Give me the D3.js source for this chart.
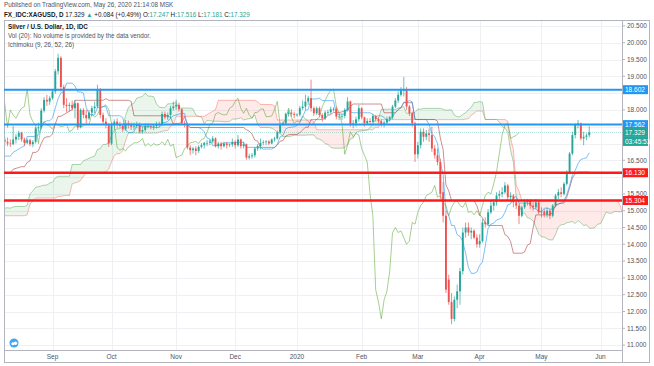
<!DOCTYPE html>
<html><head><meta charset="utf-8">
<script src="https://cdn.jsdelivr.net/npm/d3@7"></script>
<style>
body{margin:0;background:#fff;}
svg{display:block;font-family:"Liberation Sans",Arial,sans-serif;}
</style></head><body>
<svg id="c" width="654" height="366"></svg>
<script>
// ---------- DATA ----------
const firstDate = "2019-08-08";           // first visible daily bar (weekdays only)
// highs / lows before the visible window (Apr 22 – Aug 7 2019), needed by Ichimoku
const preHigh = [15.10,15.05,15.05,15.00,15.20, 15.20,15.10,15.05,14.90,15.00, 15.05,15.00,14.90,14.85,14.85,
 14.90,14.85,14.80,14.70,14.55, 14.50,14.50,14.45,14.55,14.65, 14.60,14.60,14.55,14.55,14.85,
 14.80,14.95,15.05,15.05,15.15, 15.05,14.85,14.90,14.95,15.10, 15.05,15.05,15.10,15.45,15.40,
 15.40,15.45,15.35,15.30,15.35, 15.30,15.25,15.35,15.30,15.25, 15.10,15.15,15.40,15.25,15.25,
 15.40,15.50,16.15,16.30,16.50, 16.45,16.40,16.50,16.45,16.40, 16.40,16.45,16.60,16.55,16.30, 16.45,16.50,17.30];
const preLow = [14.95,14.90,14.90,14.85,14.95, 15.00,14.95,14.85,14.70,14.75, 14.85,14.85,14.75,14.75,14.70,
 14.70,14.75,14.65,14.45,14.35, 14.30,14.30,14.25,14.35,14.45, 14.45,14.30,14.35,14.40,14.50,
 14.55,14.75,14.80,14.80,14.95, 14.75,14.70,14.75,14.80,14.90, 14.85,14.90,14.95,15.05,15.20,
 15.25,15.20,15.15,15.10,15.20, 15.00,15.05,15.20,15.10,14.95, 14.95,14.95,15.00,15.05,15.10,
 15.10,15.35,15.45,15.95,15.95, 16.10,16.20,16.35,16.20,16.25, 16.25,16.30,16.25,15.95,16.05, 16.15,16.25,16.35];

const open = [17.12,17.05, 17.00,16.98,17.12,17.20,17.32, 17.12,17.02,17.10,16.98,17.05, 17.45,17.48,17.98,18.30,18.25,
 18.35,18.55,19.15,19.55,18.68, 18.15,18.12,18.15,18.05,18.20, 17.48,18.00,17.85,17.75,17.92, 18.05,18.10,18.62,17.85,17.65,
 17.55,17.00,17.55,17.65,17.55, 17.52,17.42,17.60,17.55,17.50, 17.52,17.58,17.35,17.40,17.52, 17.52,17.50,17.52,17.58,17.56,
 17.88,17.78,17.85,18.05,18.10, 18.15,18.02,17.60,17.55,16.88, 16.80,16.85,16.78,16.90,16.95, 17.02,17.02,17.06,17.15,16.92,
 17.00,16.92,17.00,16.95,16.97, 17.05,16.95,17.12,16.92,16.98, 16.58,16.62,16.65,16.85,16.92, 17.02,17.04,17.06,17.00,17.12,
 17.15,17.33,17.58,17.60,17.88, 17.92,17.88,17.85,17.86,18.05, 18.10,18.25,18.35,18.05,17.90, 18.05,17.85,17.75,17.92,17.93,
 18.02,18.03,17.80,17.80,17.82, 18.00,18.25,17.55,17.60,17.72, 18.05,17.78,17.60,17.67,17.64, 17.82,17.73,17.66,17.55,17.62,
 17.73,17.78,18.10,18.28,18.45, 18.58,18.62,18.10,17.90,17.60, 16.68,16.95,17.35,17.20,17.30, 17.25,16.85,16.65,16.45,15.55,
 14.85,12.95,12.28,11.78,12.35, 12.60,13.20,14.35,14.50,14.35, 14.40,14.20,14.00,14.10,14.65, 14.60,14.95,15.15,15.25,15.45,
 15.50,15.55,15.75,15.40,15.45, 15.25,15.15,14.85,15.10,15.25, 15.30,15.15,15.10,15.25,14.95, 14.98,14.88,15.00,14.85,15.15,
 15.45,15.55,15.50,15.80,16.15, 16.70,17.25,17.55,17.60,17.15, 17.20,17.247];
const high = [17.20,17.18, 17.12,17.52,17.28,17.38,17.35, 17.18,17.15,17.15,17.10,17.50, 17.62,18.05,18.38,18.45,18.42,
 18.62,19.22,19.67,19.60,18.75, 18.35,18.22,18.28,18.30,18.22, 18.05,18.05,18.00,18.00,18.12, 18.25,18.75,18.65,17.92,17.75,
 17.60,17.62,17.72,17.75,17.65, 17.58,17.70,17.68,17.62,17.62, 17.65,17.62,17.50,17.60,17.60, 17.58,17.58,17.65,17.65,17.95,
 17.95,17.92,18.12,18.25,18.30, 18.22,18.05,17.68,17.62,16.95, 16.90,16.92,16.95,17.02,17.05, 17.10,17.12,17.22,17.18,17.05,
 17.05,17.05,17.05,17.00,17.15, 17.10,17.25,17.15,17.05,17.00, 16.70,16.72,16.90,16.98,17.15, 17.10,17.10,17.10,17.15,17.20,
 17.38,17.62,17.65,17.92,18.00, 18.02,17.95,17.90,18.12,18.28, 18.45,18.42,18.90,18.10,18.10, 18.10,17.90,17.98,18.00,18.10,
 18.08,18.10,17.88,17.88,18.05, 18.38,18.28,17.70,17.80,18.15, 18.08,17.80,17.75,17.75,17.88, 17.85,17.78,17.72,17.68,17.80,
 17.82,18.15,18.35,18.55,18.68, 18.98,18.68,18.15,17.95,17.65, 17.05,17.45,17.45,17.40,17.45, 17.50,16.95,16.85,16.55,15.85,
 15.00,13.10,12.55,12.45,12.80, 13.30,14.50,14.65,14.65,14.50, 14.45,14.30,14.30,14.75,14.80, 15.05,15.30,15.35,15.55,15.60,
 15.70,15.85,15.80,15.55,15.50, 15.35,15.20,15.15,15.35,15.35, 15.35,15.25,15.35,15.30,15.10, 15.05,15.10,15.05,15.20,15.50,
 15.65,15.70,15.85,16.20,16.75, 17.35,17.60,17.70,17.62,17.35, 17.30,17.516];
const low = [16.95,16.92, 16.90,16.95,17.00,17.10,17.05, 16.92,16.98,16.92,16.90,17.00, 17.35,17.42,17.92,18.12,18.15,
 18.30,18.48,19.05,18.55,18.05, 17.92,17.95,17.98,17.75,17.40, 17.45,17.75,17.60,17.70,17.82, 17.90,18.05,17.75,17.55,17.45,
 16.90,16.95,17.40,17.45,17.45, 17.35,17.38,17.45,17.40,17.40, 17.45,17.30,17.30,17.35,17.45, 17.42,17.40,17.45,17.50,17.52,
 17.72,17.70,17.75,17.98,18.00, 17.95,17.55,17.48,16.82,16.65, 16.70,16.65,16.72,16.85,16.85, 16.92,16.95,17.00,16.88,16.85,
 16.82,16.88,16.85,16.90,16.90, 16.85,16.90,16.85,16.85,16.52, 16.52,16.55,16.58,16.78,16.82, 16.95,16.95,16.95,16.98,17.05,
 17.12,17.30,17.52,17.58,17.80, 17.80,17.75,17.80,17.80,18.00, 18.00,18.15,17.95,17.82,17.85, 17.80,17.65,17.70,17.85,17.88,
 17.95,17.72,17.70,17.70,17.75, 17.95,17.50,17.45,17.50,17.65, 17.72,17.50,17.55,17.55,17.60, 17.65,17.60,17.50,17.48,17.58,
 17.65,17.72,18.05,18.20,18.40, 18.40,18.00,17.82,17.50,16.45, 16.55,16.85,17.05,17.10,17.05, 16.75,16.55,16.35,15.35,14.65,
 12.55,12.20,11.62,11.70,12.10, 12.20,13.10,14.20,14.25,14.15, 14.15,13.90,13.90,14.05,14.50, 14.55,14.90,15.00,15.15,15.35,
 15.40,15.50,15.30,15.25,15.10, 15.05,14.60,14.80,15.05,15.15, 15.05,15.00,15.05,14.90,14.80, 14.80,14.80,14.75,14.80,15.10,
 15.35,15.40,15.45,15.75,16.10, 16.65,17.15,17.45,17.10,16.95, 17.10,17.181];
const close = [17.05,17.00, 16.98,17.12,17.20,17.32,17.12, 17.02,17.10,16.98,17.05,17.45, 17.48,17.98,18.30,18.25,18.35,
 18.55,19.15,19.55,18.68,18.15, 18.12,18.15,18.05,18.20,17.48, 18.00,17.85,17.75,17.92,18.05, 18.10,18.62,17.85,17.65,17.55,
 17.00,17.55,17.65,17.55,17.52, 17.42,17.60,17.55,17.50,17.52, 17.58,17.35,17.40,17.52,17.52, 17.50,17.52,17.58,17.56,17.88,
 17.78,17.85,18.05,18.10,18.15, 18.02,17.60,17.55,16.88,16.80, 16.85,16.78,16.90,16.95,17.02, 17.02,17.06,17.15,16.92,17.00,
 16.92,17.00,16.95,16.97,17.05, 16.95,17.12,16.92,16.98,16.58, 16.62,16.65,16.85,16.92,17.02, 17.04,17.06,17.00,17.12,17.15,
 17.33,17.58,17.60,17.88,17.92, 17.88,17.85,17.86,18.05,18.10, 18.25,18.35,18.05,17.90,18.05, 17.85,17.75,17.92,17.93,18.02,
 18.03,17.80,17.80,17.82,18.00, 18.25,17.55,17.60,17.72,18.05, 17.78,17.60,17.67,17.64,17.82, 17.73,17.66,17.55,17.62,17.73,
 17.78,18.10,18.28,18.45,18.58, 18.62,18.10,17.90,17.60,16.68, 16.95,17.35,17.20,17.30,17.25, 16.85,16.65,16.45,15.50,14.85,
 12.65,12.28,11.78,12.35,12.60, 13.20,14.35,14.50,14.35,14.40, 14.20,14.00,14.10,14.65,14.60, 14.95,15.15,15.25,15.45,15.50,
 15.55,15.75,15.40,15.45,15.25, 15.15,14.85,15.10,15.25,15.30, 15.15,15.10,15.25,14.95,14.98, 14.88,15.00,14.85,15.15,15.45,
 15.55,15.50,15.80,16.15,16.70, 17.25,17.55,17.60,17.15,17.20, 17.24,17.329];

const priceTicks = [11,11.5,12,12.5,13,13.5,14,14.5,15,15.5,16,16.5,17,17.5,18,18.5,19,19.5,20,20.5];
const monthNames = ["Jan","Feb","Mar","Apr","May","Jun","Jul","Aug","Sep","Oct","Nov","Dec"];
const blueLevels = [18.602, 17.562];
const redLevels = [16.130, 15.304];
const lastPrice = 17.329;
const countdown = "03:45:53";
const ichiParams = [9, 26, 52, 26];

// ---------- LAYOUT ----------
const svg = d3.select("#c");
const P = {l:4, r:622, t:20, b:350};
const N = close.length;
const dates = [];
{ let d = new Date(firstDate+"T12:00:00Z");
  while (dates.length < N + 40) { const w = d.getUTCDay(); if (w!==0 && w!==6) dates.push(new Date(d)); d = new Date(d.getTime()+86400000); } }
const iSep = dates.findIndex(d => d.getUTCMonth()===8 && d.getUTCFullYear()===2019);
const x = d3.scaleLinear().domain([iSep, iSep+195]).range([52.5, 600.5]);
const y = d3.scaleLinear().domain([11, 20.5]).range([345.1, 25.9]);

svg.append("defs").append("clipPath").attr("id","pc").append("rect")
  .attr("x",P.l+1).attr("y",P.t+1).attr("width",P.r-P.l-1).attr("height",P.b-P.t-1);

// frame
svg.append("rect").attr("x",P.l+0.5).attr("y",P.t+0.5).attr("width",649.5-P.l-0.5).attr("height",362-P.t)
  .attr("fill","none").attr("stroke","#b2b5be").attr("stroke-width",1);
svg.append("line").attr("x1",P.r+0.5).attr("x2",P.r+0.5).attr("y1",P.t).attr("y2",362.5).attr("stroke","#b2b5be");
svg.append("line").attr("x1",P.l).attr("x2",P.r).attr("y1",P.b+0.5).attr("y2",P.b+0.5).attr("stroke","#b2b5be");

const months = [];
for (let i=1;i<dates.length;i++){ if (dates[i].getUTCMonth()!==dates[i-1].getUTCMonth()) months.push(i); }
const monthTicks = months.filter(i => x(i) > P.l+20 && x(i) < P.r-10);

const grid = svg.append("g").attr("clip-path","url(#pc)");
grid.selectAll(".vg").data(monthTicks).join("line")
  .attr("x1",d=>Math.round(x(d))+0.5).attr("x2",d=>Math.round(x(d))+0.5).attr("y1",P.t).attr("y2",P.b)
  .attr("stroke","#eef0f4").attr("stroke-width",1);
grid.selectAll(".hg").data(priceTicks).join("line")
  .attr("x1",P.l).attr("x2",P.r).attr("y1",d=>Math.round(y(d))+0.5).attr("y2",d=>Math.round(y(d))+0.5)
  .attr("stroke","#eef0f4").attr("stroke-width",1);

svg.append("g").selectAll("text").data(monthTicks).join("text")
  .attr("x",d=>x(d)).attr("y",358.5).attr("text-anchor","middle").attr("font-size",6.5).attr("fill","#50535e")
  .text(d => dates[d].getUTCMonth()===0 ? String(dates[d].getUTCFullYear()) : monthNames[dates[d].getUTCMonth()]);

// price axis (labels hidden where a price tag covers them)
const tagYs = blueLevels.concat(redLevels, [lastPrice]).map(v=>y(v)).concat([y(lastPrice)+9]);
const shownTicks = priceTicks.filter(v => tagYs.every(t => Math.abs(y(v)-t) >= 6.5));
const pa = svg.append("g");
pa.selectAll("line").data(priceTicks).join("line")
  .attr("x1",P.r).attr("x2",P.r+3).attr("y1",d=>y(d)).attr("y2",d=>y(d)).attr("stroke","#b2b5be");
pa.selectAll("text").data(shownTicks).join("text")
  .attr("x",P.r+5).attr("y",d=>y(d)+2.3).attr("font-size",6.5).attr("fill","#50535e")
  .text(d=>d3.format(".3f")(d));

// ---------- ICHIMOKU ----------
const H = preHigh.concat(high), L = preLow.concat(low);
const off = preHigh.length;
function mid(c, n){ if (c-n+1 < 0 || c >= H.length) return null; let hh=-Infinity, ll=Infinity;
  for (let k=c-n+1;k<=c;k++){ hh=Math.max(hh,H[k]); ll=Math.min(ll,L[k]); } return (hh+ll)/2; }
const [tp, kp, sp, sh] = ichiParams;
const ten = [], kij = [], cloud = [];
for (let c=0;c<H.length;c++){
  const t = mid(c,tp), k = mid(c,kp), b = mid(c,sp);
  ten.push({j:c-off, v:t}); kij.push({j:c-off, v:k});
  if (t!==null && k!==null && b!==null) cloud.push({j:c-off+sh-1, a:(t+k)/2, b:b});
}
const chik = close.map((v,j)=>({j:j-sh+1, v}));

const ich = svg.append("g").attr("clip-path","url(#pc)");
for (let i=0;i<cloud.length-1;i++){
  const p0 = cloud[i], p1 = cloud[i+1];
  const d0 = p0.a-p0.b, d1 = p1.a-p1.b;
  const segs = [];
  if (d0*d1 < 0){
    const t = d0/(d0-d1), jm = p0.j + t*(p1.j-p0.j), vm = p0.a + t*(p1.a-p0.a);
    segs.push([p0, {j:jm,a:vm,b:vm}, d0>0]); segs.push([{j:jm,a:vm,b:vm}, p1, d1>0]);
  } else segs.push([p0,p1, (d0+d1)>=0]);
  segs.forEach(([q0,q1,upc])=>{
    ich.append("path").attr("d",`M${x(q0.j)},${y(q0.a)}L${x(q1.j)},${y(q1.a)}L${x(q1.j)},${y(q1.b)}L${x(q0.j)},${y(q0.b)}Z`)
      .attr("fill", upc ? "#43a047" : "#f44336").attr("fill-opacity",0.11).attr("stroke","none");
  });
}
const ln = key => d3.line().defined(d=>d[key]!==null).x(d=>x(d.j)).y(d=>y(d[key]));
ich.append("path").datum(cloud).attr("d",ln("a")).attr("fill","none").attr("stroke","#43a047").attr("stroke-opacity",0.55).attr("stroke-width",0.8);
ich.append("path").datum(cloud).attr("d",ln("b")).attr("fill","none").attr("stroke","#f44336").attr("stroke-opacity",0.45).attr("stroke-width",0.8);
ich.append("path").datum(chik).attr("d",ln("v")).attr("fill","none").attr("stroke","#459915").attr("stroke-opacity",0.6).attr("stroke-width",0.8);
ich.append("path").datum(kij).attr("d",ln("v")).attr("fill","none").attr("stroke","#991515").attr("stroke-opacity",0.6).attr("stroke-width",0.8);
ich.append("path").datum(ten).attr("d",ln("v")).attr("fill","none").attr("stroke","#2196f3").attr("stroke-opacity",0.75).attr("stroke-width",0.8);

// ---------- CANDLES ----------
const bars = close.map((c,j)=>({j, o:open[j], h:high[j], l:low[j], c}));
const cg = svg.append("g").attr("clip-path","url(#pc)");
const up = "#26a69a", dn = "#ef5350";
cg.selectAll(".w").data(bars).join("line")
  .attr("x1",d=>x(d.j)).attr("x2",d=>x(d.j)).attr("y1",d=>y(d.h)).attr("y2",d=>y(d.l))
  .attr("stroke",d=>d.c>=d.o?up:dn).attr("stroke-width",0.7);
cg.selectAll(".b").data(bars).join("rect")
  .attr("x",d=>x(d.j)-0.95).attr("width",1.9)
  .attr("y",d=>y(Math.max(d.o,d.c))).attr("height",d=>Math.max(0.7, Math.abs(y(d.o)-y(d.c))))
  .attr("fill",d=>d.c>=d.o?up:dn);

// ---------- LEVELS ----------
const lv = svg.append("g");
lv.append("line").attr("x1",P.l).attr("x2",P.r).attr("y1",y(lastPrice)).attr("y2",y(lastPrice))
  .attr("stroke",up).attr("stroke-opacity",0.5).attr("stroke-width",0.7).attr("stroke-dasharray","1,1");
blueLevels.forEach(v=>lv.append("line").attr("x1",P.l).attr("x2",P.r).attr("y1",y(v)).attr("y2",y(v)).attr("stroke","#2196f3").attr("stroke-width",2));
redLevels.forEach(v=>lv.append("line").attr("x1",P.l).attr("x2",P.r).attr("y1",y(v)).attr("y2",y(v)).attr("stroke","#ff1a1a").attr("stroke-width",2.4));

function tag(col, txt, yy){
  const g = svg.append("g");
  g.append("rect").attr("x",P.r+1).attr("y",yy-4.5).attr("width",25).attr("height",9).attr("fill",col);
  g.append("text").attr("x",P.r+3).attr("y",yy+2.3).attr("font-size",6.5).attr("fill","#fff").text(txt);
}
blueLevels.forEach(v=>tag("#2196f3",d3.format(".3f")(v),y(v)));
redLevels.forEach(v=>tag("#ff1a1a",d3.format(".3f")(v),y(v)));
tag(up, d3.format(".3f")(lastPrice), y(lastPrice));
tag(up, countdown, y(lastPrice)+9);

// ---------- TEXTS ----------
svg.append("text").attr("x",4).attr("y",7).attr("font-size",6.3).attr("fill","#50535e")
  .text("Published on TradingView.com, May 26, 2020 21:14:08 MSK");
const t2 = svg.append("text").attr("x",4).attr("y",16.5).attr("font-size",6.3).attr("fill","#131722");
t2.append("tspan").attr("font-weight","bold").text("FX_IDC:XAGUSD, D ");
t2.append("tspan").text("17.329 ");
t2.append("tspan").attr("fill","#26a69a").text("▲ ");
t2.append("tspan").text("+0.084 (+0.49%) ");
[["O:","17.247"],["H:","17.516"],["L:","17.181"],["C:","17.329"]].forEach(([k,v])=>{
  t2.append("tspan").text(k); t2.append("tspan").attr("fill","#26a69a").text(v+" ");
});
svg.append("text").attr("x",8).attr("y",28.5).attr("font-size",6.3).attr("font-weight","bold").attr("fill","#131722").text("Silver / U.S. Dollar, 1D, IDC");
svg.append("text").attr("x",8).attr("y",37.5).attr("font-size",6.3).attr("fill","#50535e").text("Vol (20): No volume is provided by the data vendor.");
svg.append("text").attr("x",8).attr("y",46.5).attr("font-size",6.3).attr("fill","#50535e").text("Ichimoku (9, 26, 52, 26)");

const lg = svg.append("g").attr("transform","translate(14,343)");
lg.append("circle").attr("r",4.5).attr("fill","#2196f3").attr("fill-opacity",0.85);
lg.append("circle").attr("cx",-1.2).attr("cy",0.8).attr("r",1.5).attr("fill","#fff");
lg.append("circle").attr("cx",1.4).attr("cy",0.3).attr("r",1.8).attr("fill","#fff");
</script>
</body></html>
